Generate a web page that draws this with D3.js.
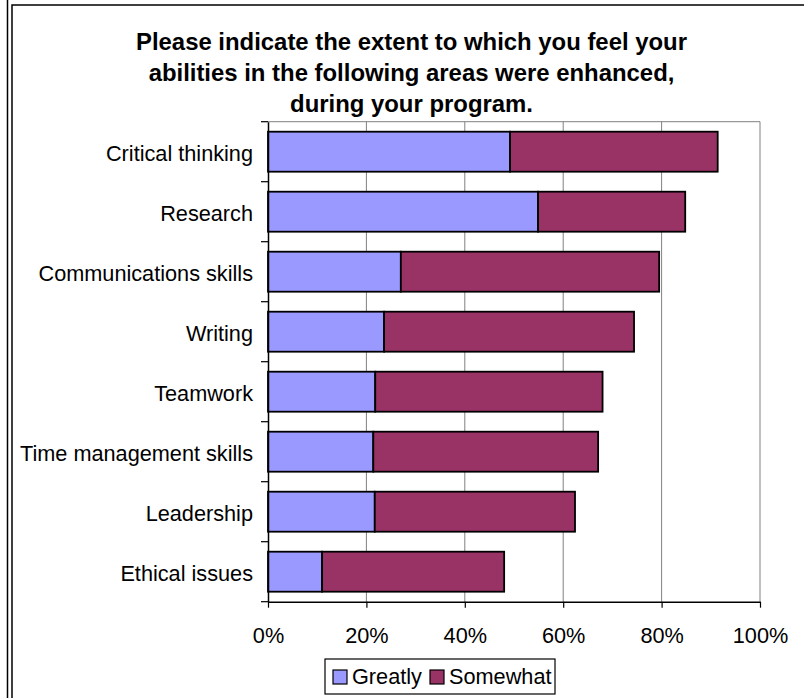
<!DOCTYPE html>
<html><head><meta charset="utf-8">
<script src="https://cdn.jsdelivr.net/npm/d3@7"></script>
<style>html,body{margin:0;padding:0;background:#fff}svg{display:block}</style>
</head><body>
<svg id="chart" width="804" height="698"></svg>
<script>
const categories = ["Critical thinking","Research","Communications skills","Writing","Teamwork","Time management skills","Leadership","Ethical issues"];
const greatly = [49.2,54.9,27.0,23.6,21.8,21.4,21.7,11.0];
const somewhat = [42.2,29.9,52.5,50.8,46.2,45.7,40.7,37.0];
const seriesNames = ["Greatly","Somewhat"];
const xTicks = [0,20,40,60,80,100];
const titleLines = ["Please indicate the extent to which you feel your","abilities in the following areas were enhanced,","during your program."];
const colors = ["#9999FF","#993366"];

(function(){
const svg = d3.select("#chart");
const font = "'Liberation Sans', Arial, sans-serif";
const fs = 21.7;

// outer frame
svg.append("line").attr("x1",7.5).attr("x2",7.5).attr("y1",0).attr("y2",698).attr("stroke","#000").attr("stroke-width",1.5);
svg.append("rect").attr("x",12).attr("y",5).attr("width",800).attr("height",700).attr("fill","none").attr("stroke","#000").attr("stroke-width",1.5);

const pL=268, pR=760, pT=121.7, pB=601.7;
const x = d3.scaleLinear().domain([0,100]).range([pL,pR]);
const y = d3.scaleBand().domain(categories).range([pT,pB]).paddingInner(1/3).paddingOuter(1/6);

// title
svg.append("g").selectAll("text").data(titleLines).join("text")
  .attr("x",411.5).attr("y",(d,i)=>49.5+i*31).attr("text-anchor","middle")
  .attr("font-family",font).attr("font-weight","bold").attr("font-size",23.9).attr("fill","#000").text(d=>d);

// gridlines
svg.append("g").selectAll("line").data(xTicks.filter(t=>t>0)).join("line")
  .attr("x1",d=>x(d)).attr("x2",d=>x(d)).attr("y1",pT).attr("y2",pB)
  .attr("stroke","#808080").attr("stroke-width",1);
svg.append("line").attr("x1",pL).attr("x2",pR).attr("y1",pT).attr("y2",pT).attr("stroke","#808080").attr("stroke-width",1);

// bars
const stacked = categories.map((c,i)=>({c, parts:[{s:0,e:greatly[i],k:0},{s:greatly[i],e:greatly[i]+somewhat[i],k:1}]}));
const g = svg.append("g");
stacked.forEach(d=>{
  g.selectAll(null).data(d.parts).join("rect")
    .attr("x",p=>x(p.s)).attr("width",p=>x(p.e)-x(p.s))
    .attr("y",y(d.c)).attr("height",y.bandwidth())
    .attr("fill",p=>colors[p.k]).attr("stroke","#000").attr("stroke-width",1.8);
});

// axes
const yAxis = d3.axisLeft(y).tickSize(0).tickPadding(15);
const ya = svg.append("g").attr("transform",`translate(${pL},0)`).call(yAxis);
ya.select(".domain").attr("stroke","#000").attr("stroke-width",1.5);
ya.selectAll("text").attr("font-family",font).attr("font-size",fs).attr("fill","#000").attr("dy","0.45em");
const bounds = d3.range(categories.length+1).map(i=>pT+i*y.step());
svg.append("g").selectAll("line").data(bounds).join("line")
  .attr("x1",pL-7).attr("x2",pL).attr("y1",d=>d).attr("y2",d=>d).attr("stroke","#000").attr("stroke-width",1.2);

const xAxis = d3.axisBottom(x).tickValues(xTicks).tickFormat(d=>d+"%").tickSize(6).tickSizeOuter(0).tickPadding(19.5);
const xa = svg.append("g").attr("transform",`translate(0,${pB})`).call(xAxis);
xa.select(".domain").attr("stroke","#000").attr("stroke-width",1.5);
xa.selectAll(".tick line").attr("stroke","#000").attr("stroke-width",1.2);
xa.selectAll("text").attr("font-family",font).attr("font-size",fs).attr("fill","#000");

// legend
const lg = svg.append("g");
lg.append("rect").attr("x",325).attr("y",659).attr("width",230).attr("height",35).attr("fill","#fff").attr("stroke","#000").attr("stroke-width",1.2);
const legX = [333,430];
seriesNames.forEach((n,i)=>{
  lg.append("rect").attr("x",legX[i]).attr("y",670).attr("width",14).attr("height",14).attr("fill",colors[i]).attr("stroke","#000").attr("stroke-width",1.2);
  lg.append("text").attr("x",legX[i]+19).attr("y",684).attr("font-family",font).attr("font-size",fs).attr("fill","#000").text(n);
});
})();
</script>
</body></html>
